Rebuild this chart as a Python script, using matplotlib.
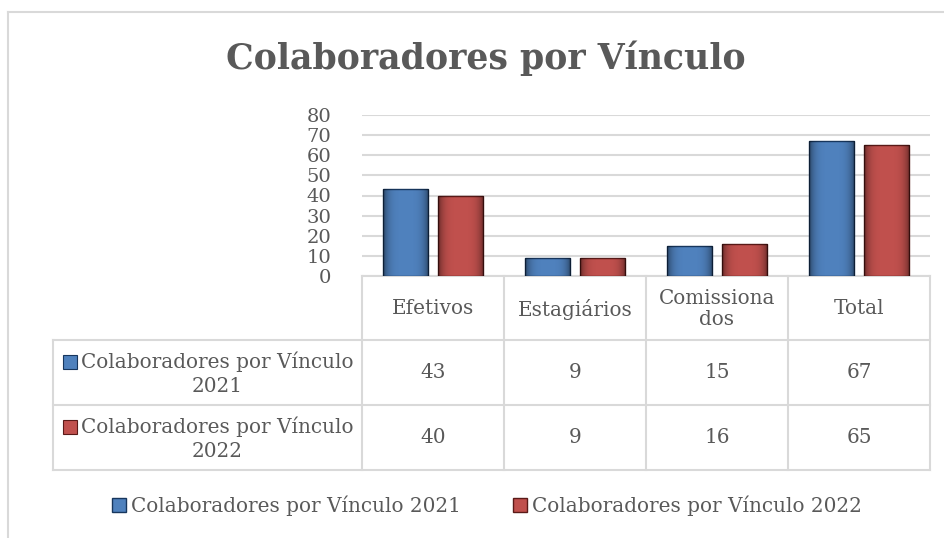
import matplotlib.pyplot as plt
import numpy as np
from matplotlib.patches import Rectangle, Patch
from matplotlib.transforms import blended_transform_factory

# ------------ Data ------------
categories = ["Efetivos", "Estagiários", "Comissionados", "Total"]
header_labels = ["Efetivos", "Estagiários", "Comissiona\ndos", "Total"]
series_names = ["Colaboradores por Vínculo 2021", "Colaboradores por Vínculo 2022"]
row_labels = ["Colaboradores por Vínculo\n2021", "Colaboradores por Vínculo\n2022"]
values_2021 = [43, 9, 15, 67]
values_2022 = [40, 9, 16, 65]
yticks = [0, 10, 20, 30, 40, 50, 60, 70, 80]
title = "Colaboradores por Vínculo"

colors = ["#4F81BD", "#C0504D"]
edges = ["#17365D", "#5A1A18"]
grid_c = "#D9D9D9"
text_c = "#595959"
fs = 14.4

plt.rcParams['font.family'] = ['DejaVu Serif']

W, H = 945, 538
fig = plt.figure(figsize=(W / 100, H / 100), dpi=100)

# overlay in pixel coords (y down)
ov = fig.add_axes([0, 0, 1, 1])
ov.set_xlim(0, W)
ov.set_ylim(H, 0)
ov.axis('off')

# main plot area
x0, x1, ybot, ytop = 362, 930, 276, 115
ax = fig.add_axes([x0 / W, 1 - ybot / H, (x1 - x0) / W, (ybot - ytop) / H])
x = np.arange(len(categories))
bw, off = 0.317, 0.194
# darken toward the sides of each bar (bevel look)
g = np.linspace(-1, 1, 64)
shade = np.zeros((1, 64, 4))
shade[0, :, 3] = 0.45 * np.abs(g) ** 4
for i, vals in enumerate([values_2021, values_2022]):
    bars = ax.bar(x + (i * 2 - 1) * off, vals, bw, color=colors[i],
                  edgecolor=edges[i], linewidth=1.0, zorder=3)
    for b in bars:
        bx, by = b.get_x(), b.get_y()
        im = ax.imshow(shade, extent=[bx, bx + b.get_width(), by, by + b.get_height()],
                       aspect='auto', zorder=4)
        im.set_clip_path(b)
ax.set_xlim(-0.5, len(categories) - 0.5)
ax.set_ylim(0, 80)
ax.set_yticks(yticks)
ax.set_yticklabels([str(t) for t in yticks], fontsize=14, color=text_c)
ax.tick_params(axis='y', length=0, pad=22)
ax.tick_params(axis='x', length=0, labelbottom=False)
ax.yaxis.grid(True, color=grid_c, linewidth=1.5, zorder=0)
for s in ax.spines.values():
    s.set_visible(False)
ax.set_facecolor('none')

# chart border
ov.plot([8, 8], [H, 12], color=grid_c, lw=1.5)
ov.plot([8, W], [12, 12], color=grid_c, lw=1.5)

# title
ov.text(486, 58, title, ha='center', va='center', fontsize=25,
        fontweight='bold', color=text_c)

# ------------ Data table ------------
tr = blended_transform_factory(ax.transData, ov.transData)
r_top, r_h1, r_h2, r_bot = 276, 340, 405, 470
left_x = 53
n = len(categories)
ov.plot([x0, x1], [r_top, r_top], color=grid_c, lw=1.5)
for yy in [r_h1, r_h2, r_bot]:
    ov.plot([left_x, x1], [yy, yy], color=grid_c, lw=1.5)
for k in range(n + 1):
    ax_x = k - 0.5
    ov.plot([ax_x, ax_x], [r_top, r_bot], color=grid_c, lw=1.5, transform=tr)
ov.plot([left_x, left_x], [r_h1, r_bot], color=grid_c, lw=1.5)

for k, lab in enumerate(header_labels):
    ov.text(k, (r_top + r_h1) / 2 + 1, lab, transform=tr, ha='center', va='center',
            fontsize=fs, color=text_c, linespacing=1.15)

rows = [values_2021, values_2022]
row_tops = [r_h1, r_h2]
row_bots = [r_h2, r_bot]
for j, vals in enumerate(rows):
    yc = (row_tops[j] + row_bots[j]) / 2
    for k, v in enumerate(vals):
        ov.text(k, yc, str(v), transform=tr, ha='center', va='center',
                fontsize=fs, color=text_c)
    line1, line2 = row_labels[j].split("\n")
    ov.add_patch(Rectangle((63, yc - 18), 14, 14, facecolor=colors[j],
                           edgecolor=edges[j], lw=0.8))
    ov.text(217, yc - 10.5, line1, ha='center', va='center', fontsize=fs, color=text_c)
    ov.text(217, yc + 14, line2, ha='center', va='center', fontsize=fs, color=text_c)

# ------------ Legend ------------
handles = [Patch(facecolor=colors[i], edgecolor=edges[i], label=series_names[i])
           for i in range(2)]
fig.legend(handles=handles, loc='center', bbox_to_anchor=(487 / W, 1 - 506 / H),
           ncol=2, frameon=False, fontsize=fs, handlelength=0.7, handleheight=0.7,
           handletextpad=0.25, columnspacing=2.6, labelcolor=text_c)

plt.savefig("out.png", dpi=100)
